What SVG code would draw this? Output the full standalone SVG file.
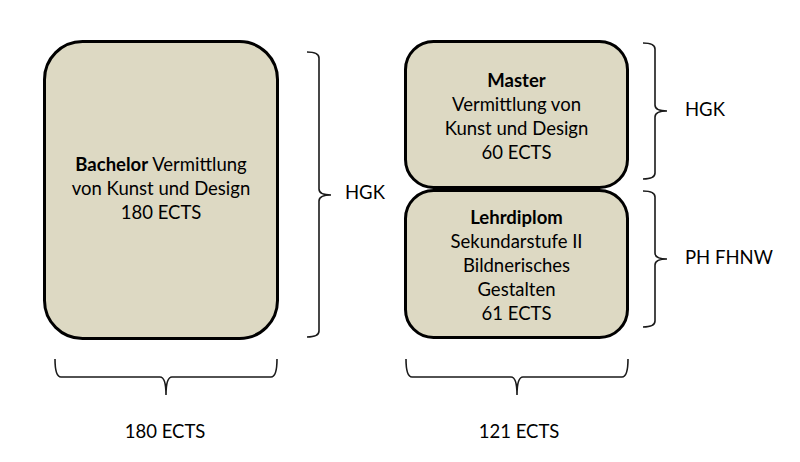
<svg xmlns="http://www.w3.org/2000/svg" width="800" height="462" viewBox="0 0 800 462">
<style>
.box{fill:#DDD9C3;stroke:#000;stroke-width:3}
.brace{fill:none;stroke:#1a1a1a;stroke-width:1.6}
text{font-family:Lato,"Liberation Sans",sans-serif;font-size:18.5px;fill:#000}
.c{text-anchor:middle}
.b{font-weight:bold}
</style>
<rect width="800" height="462" fill="#fff"/>
<g id="bachelor">
<rect class="box" x="44.5" y="41.5" width="233" height="297" rx="38" ry="38"/>
<text class="c" x="161" y="171"><tspan class="b">Bachelor</tspan> Vermittlung</text>
<text class="c" x="161" y="195">von Kunst und Design</text>
<text class="c" x="161" y="219">180 ECTS</text>
</g>
<g id="master">
<rect class="box" x="405.5" y="41.5" width="222" height="146" rx="28" ry="28"/>
<text class="c b" x="516.5" y="87">Master</text>
<text class="c" x="516.5" y="111">Vermittlung von</text>
<text class="c" x="516.5" y="135">Kunst und Design</text>
<text class="c" x="516.5" y="159">60 ECTS</text>
</g>
<g id="lehrdiplom">
<rect class="box" x="405.5" y="190.5" width="222" height="147" rx="28" ry="28"/>
<text class="c b" x="516.5" y="224">Lehrdiplom</text>
<text class="c" x="516.5" y="248">Sekundarstufe II</text>
<text class="c" x="516.5" y="272">Bildnerisches</text>
<text class="c" x="516.5" y="296">Gestalten</text>
<text class="c" x="516.5" y="320">61 ECTS</text>
</g>
<g id="connectors">
<path class="brace" d="M307,52 Q319,52 319,58 V189 Q319,195 331,195 Q319,195 319,201 V331 Q319,337 307,337"/>
<path class="brace" d="M643,43 Q655,43 655,49 V105 Q655,111 667,111 Q655,111 655,117 V173 Q655,179 643,179"/>
<path class="brace" d="M643,191 Q655,191 655,197 V253 Q655,259 667,259 Q655,259 655,265 V321 Q655,327 643,327"/>
<path class="brace" d="M55,359 Q55,377 61,377 H160 Q166,377 166,395 Q166,377 172,377 H271 Q277,377 277,359"/>
<path class="brace" d="M406,359 Q406,377 412,377 H511 Q517,377 517,395 Q517,377 523,377 H622 Q628,377 628,359"/>
</g>
<g id="labels">
<text x="345" y="199">HGK</text>
<text x="685" y="116">HGK</text>
<text x="685" y="264">PH FHNW</text>
<text class="c" x="165" y="438">180 ECTS</text>
<text class="c" x="519" y="438">121 ECTS</text>
</g>
</svg>
